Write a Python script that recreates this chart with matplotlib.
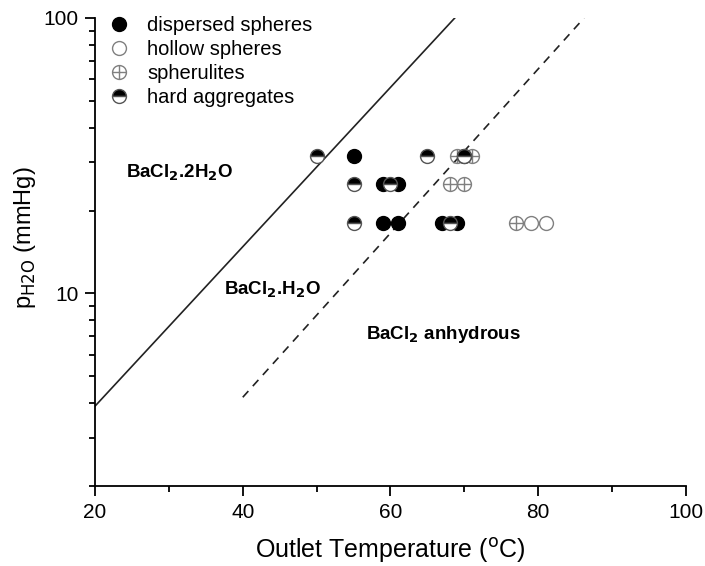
import matplotlib.pyplot as plt
from matplotlib.path import Path
from matplotlib.ticker import FixedLocator, NullFormatter

plt.rcParams['font.family'] = ['Liberation Sans', 'DejaVu Sans']

# morphology observations: outlet temperature (C) vs water partial pressure (mmHg)
dispersed_t = [55, 70, 59, 61, 59, 61, 67, 69]
dispersed_p = [31.6, 31.6, 25, 25, 18, 18, 18, 18]
hollow_t = [79, 81]
hollow_p = [18, 18]
spherulite_t = [69, 71, 68, 70, 77]
spherulite_p = [31.6, 31.6, 25, 25, 18]
hard_t = [50, 65, 70, 55, 60, 55, 68]
hard_p = [31.6, 31.6, 31.6, 25, 25, 18, 18]

# phase boundaries
dihydrate_t = [20, 68.7]
dihydrate_p = [3.9, 100]
monohydrate_t = [40, 86.2]
monohydrate_p = [4.2, 100]

# circle with a cross inside
oplus = Path.make_compound_path(
    Path.unit_circle(),
    Path([[-1, 0], [1, 0]], [Path.MOVETO, Path.LINETO]),
    Path([[0, -1], [0, 1]], [Path.MOVETO, Path.LINETO]))

fig = plt.figure(figsize=(7.05, 5.66), dpi=100)
ax = fig.add_axes([0.1348, 0.1413, 0.8382, 0.8269])

ax.plot(dihydrate_t, dihydrate_p, color='#222222', lw=1.2)
ax.plot(monohydrate_t, monohydrate_p, color='#222222', lw=1.2, ls=(0, (5, 4)))

ms = 10
gray = '#808080'
ax.plot(spherulite_t, spherulite_p, ls='none', marker=oplus, ms=ms,
        mfc='none', mec=gray, mew=1.0, label='spherulites')
ax.plot(hollow_t, hollow_p, ls='none', marker='o', ms=ms,
        mfc='white', mec=gray, mew=1.0, label='hollow spheres')
ax.plot(dispersed_t, dispersed_p, ls='none', marker='o', ms=ms,
        mfc='black', mec='black', mew=1.0, label='dispersed spheres')
ax.plot(hard_t, hard_p, ls='none', marker='o', ms=ms, fillstyle='top',
        mfc='black', mfcalt='white', mec='#555555', mew=1.0,
        label='hard aggregates')

handles, labels = ax.get_legend_handles_labels()
order = [2, 1, 0, 3]
ax.legend([handles[i] for i in order], [labels[i] for i in order],
          loc='upper left', bbox_to_anchor=(0.0, 1.035), frameon=False,
          fontsize=14.5, handlelength=1.0, handletextpad=0.9,
          labelspacing=0.26, borderaxespad=0.3)

ax.text(31.5, 27.5, r'BaCl$_\mathbf{2}$.2H$_\mathbf{2}$O', fontsize=13.5,
        fontweight='bold', ha='center', va='center')
ax.text(44, 10.3, r'BaCl$_\mathbf{2}$.H$_\mathbf{2}$O', fontsize=13.5,
        fontweight='bold', ha='center', va='center')
ax.text(67.2, 7.1, r'BaCl$_\mathbf{2}$ anhydrous', fontsize=13.5,
        fontweight='bold', ha='center', va='center')

ax.set_yscale('log')
ax.set_xlim(20, 100)
ax.set_ylim(2, 100)
ax.set_xticks([20, 40, 60, 80, 100])
ax.xaxis.set_minor_locator(FixedLocator([30, 50, 70, 90]))
ax.set_yticks([10, 100])
ax.set_yticklabels(['10', '100'])
ax.yaxis.set_minor_locator(FixedLocator(
    [2, 3, 4, 5, 6, 7, 8, 9, 20, 30, 40, 50, 60, 70, 80, 90]))
ax.yaxis.set_minor_formatter(NullFormatter())

for side in ['top', 'right']:
    ax.spines[side].set_visible(False)
for side in ['left', 'bottom']:
    ax.spines[side].set_linewidth(1.3)
ax.tick_params(which='major', direction='out', length=7, width=1.3,
               labelsize=15, pad=5)
ax.tick_params(which='minor', direction='out', length=4.5, width=1.3)

ax.set_xlabel(r'Outlet Temperature ($^\mathrm{o}$C)', fontsize=18, labelpad=10)
ax.set_ylabel(r'p$_\mathrm{H2O}$ (mmHg)', fontsize=17)
ax.yaxis.set_label_coords(-0.097, 0.53)

fig.savefig('out.png', dpi=100)
